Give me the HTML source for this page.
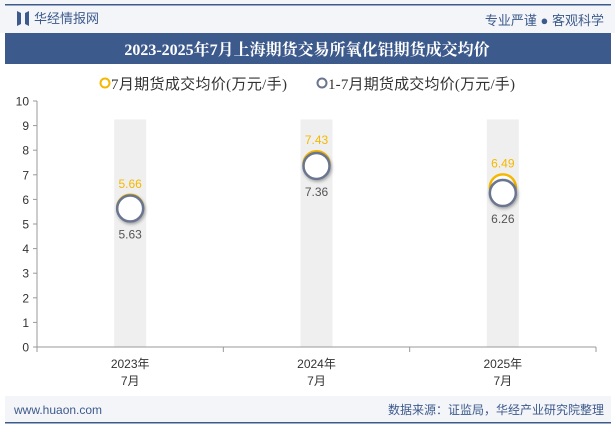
<!DOCTYPE html>
<html><head><meta charset="utf-8"><style>
body{margin:0;width:615px;height:427px;overflow:hidden;background:#fff;font-family:"Liberation Sans","Noto Sans CJK SC",sans-serif;}
</style></head><body>
<svg width="615" height="427" xmlns="http://www.w3.org/2000/svg">
<defs><filter id="sh" x="-50%" y="-50%" width="200%" height="200%"><feDropShadow dx="1" dy="1.5" stdDeviation="1.5" flood-color="#000" flood-opacity="0.35"/></filter></defs>
<rect x="0" y="0" width="615" height="33" fill="#f3f5f9"/>
<rect x="5" y="4" width="606" height="1.5" fill="#3d5a8c"/>
<path d="M17 11 L21 13 L21 24 L17 26 Z M25 13 L29 11 L29 26 L25 24 Z" fill="#3d5a8c"/>
<text x="34" y="23" font-size="13" fill="#3d5a8c">华经情报网</text>
<text x="604" y="25" font-size="13" fill="#3d5a8c" text-anchor="end">专业严谨 ● 客观科学</text>
<rect x="5" y="33" width="606" height="31" fill="#3d5a8c"/>
<text x="307" y="55" font-size="16" font-weight="bold" fill="#fff" text-anchor="middle" font-family="Liberation Serif,Noto Serif CJK SC,serif">2023-2025年7月上海期货交易所氧化铝期货成交均价</text>
<g>
<circle cx="105" cy="83" r="4.5" fill="none" stroke="#f5b800" stroke-width="2"/>
<text x="111" y="89" font-size="15" fill="#333" textLength="176" font-family="Liberation Serif,Noto Sans CJK SC,serif">7月期货成交均价(万元/手)</text>
<circle cx="322" cy="83" r="4.5" fill="none" stroke="#6a7590" stroke-width="2"/>
<text x="328" y="89" font-size="15" fill="#333" textLength="187" font-family="Liberation Serif,Noto Sans CJK SC,serif">1-7月期货成交均价(万元/手)</text>
</g>
<g id="plot"></g>
<rect x="5" y="396" width="606" height="26" fill="#f3f5f9"/>
<rect x="5" y="422" width="606" height="1.5" fill="#3d5a8c"/>
<text x="14" y="414" font-size="12" fill="#3d5a8c">www.huaon.com</text>
<text x="604" y="414" font-size="12" fill="#3d5a8c" text-anchor="end">数据来源：证监局，华经产业研究院整理</text>
</svg>
<script>
const categories=["2023年|7月","2024年|7月","2025年|7月"];
const julyValues=[5.66,7.43,6.49];
const ytdValues=[5.63,7.36,6.26];
const yTicks=[0,1,2,3,4,5,6,7,8,9,10];
const NS="http://www.w3.org/2000/svg";
const g=document.getElementById('plot');
const x0=37,x1=596,yBase=347,yTop=101;
const y=v=>yBase-(v/10)*(yBase-yTop);
const bw=(x1-x0)/categories.length;
const x=i=>x0+bw*(i+0.5);
function mk(t,a,txt){const e=document.createElementNS(NS,t);for(const k in a)e.setAttribute(k,a[k]);if(txt!=null)e.textContent=txt;g.appendChild(e);return e;}
categories.forEach((c,i)=>{
 const b=mk('rect',{x:x(i)-16,y:y(9.25),width:32,height:yBase-y(9.25),fill:'#efefef'});
 
 
});
const ax=mk('line',{x1:x0,y1:yBase,x2:x1,y2:yBase,stroke:'#999'});


const ay=mk('line',{x1:x0,y1:yTop,x2:x0,y2:yBase,stroke:'#999'});


yTicks.forEach(t=>{
 mk('line',{x1:x0-4,y1:y(t),x2:x0,y2:y(t),stroke:'#999'});
 const l=mk('text',{x:x0-8,y:y(t)+4.5,'font-size':12,fill:'#333','text-anchor':'end'},t);
 
 
});
for(let i=0;i<=categories.length;i++)mk('line',{x1:x0+bw*i,y1:yBase,x2:x0+bw*i,y2:yBase+5,stroke:'#999'});
categories.forEach((c,i)=>{
 const p=c.split('|');
 const l1=mk('text',{x:x(i),y:368,'font-size':12,fill:'#333','text-anchor':'middle'},p[0]);
 
 
 const l2=mk('text',{x:x(i),y:385,'font-size':12,fill:'#333','text-anchor':'middle'},p[1]);
 
 
 const a=mk('circle',{cx:x(i),cy:y(julyValues[i]),r:13,fill:'#fff',stroke:'#f5b800','stroke-width':2.5});
 
 
 const b=mk('circle',{cx:x(i),cy:y(ytdValues[i]),r:13,fill:'#fff',stroke:'#6a7590','stroke-width':2.5,filter:'url(#sh)'});
 
 
 const la=mk('text',{x:x(i),y:Math.min(y(julyValues[i]),y(ytdValues[i]))-20,'font-size':12,fill:'#f5b800','text-anchor':'middle'},julyValues[i].toFixed(2));
 
 
 const lb=mk('text',{x:x(i),y:Math.max(y(julyValues[i]),y(ytdValues[i]))+30,'font-size':12,fill:'#555','text-anchor':'middle'},ytdValues[i].toFixed(2));
 
 
});
</script>
</body></html>
